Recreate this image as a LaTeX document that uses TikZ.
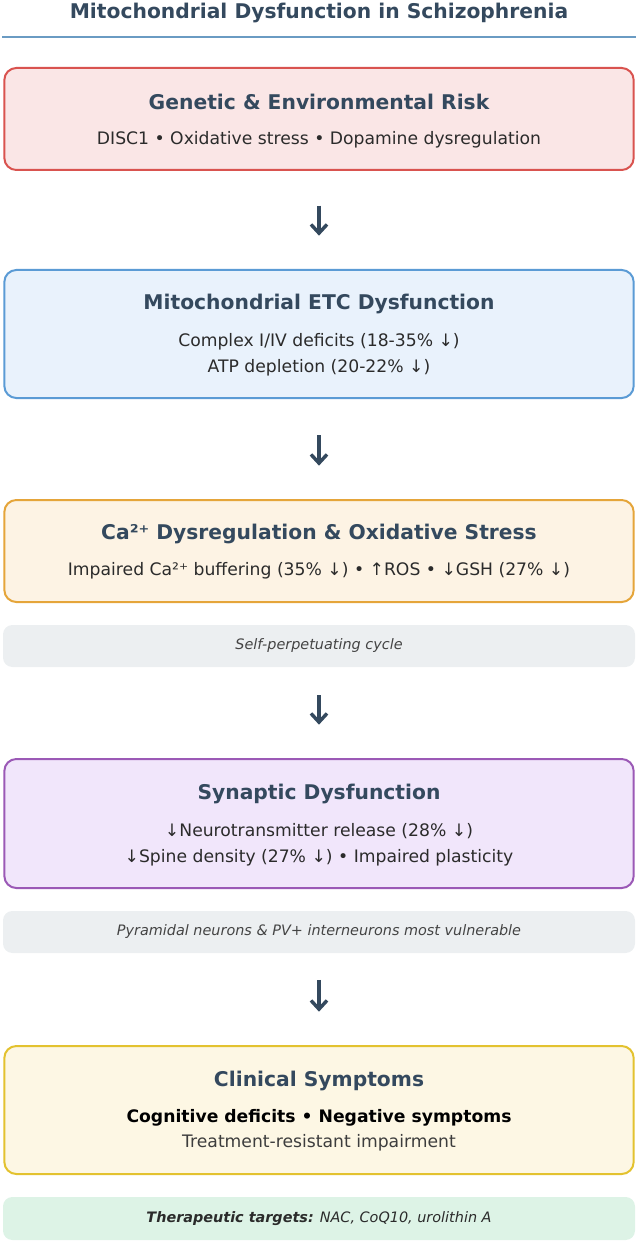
\documentclass[tikz,border=0pt]{standalone}
\usepackage{fontspec}
\setmainfont{DejaVu Sans}
\usetikzlibrary{arrows.meta}

\definecolor{inkdark}{HTML}{34495E}
\definecolor{bodyink}{HTML}{2B2B2B}
\definecolor{noteink}{HTML}{444444}
\definecolor{rulecol}{HTML}{6A9BC3}
\definecolor{riskline}{HTML}{D9534F}
\definecolor{riskfill}{HTML}{FAE6E6}
\definecolor{etcline}{HTML}{5B9BD5}
\definecolor{etcfill}{HTML}{E9F2FC}
\definecolor{caline}{HTML}{E5A53A}
\definecolor{cafill}{HTML}{FDF3E4}
\definecolor{synline}{HTML}{9B59B6}
\definecolor{synfill}{HTML}{F1E6FB}
\definecolor{clinline}{HTML}{E3C22F}
\definecolor{clinfill}{HTML}{FDF7E4}
\definecolor{notefill}{HTML}{ECEFF1}
\definecolor{therafill}{HTML}{DDF3E6}

\tikzset{
  stagebox/.style 2 args={draw=#1, fill=#2, line width=1.5pt,
    rounded corners=9pt, minimum width=472pt, inner sep=0pt},
  notebar/.style={fill=#1, rounded corners=7pt, minimum width=474pt,
    minimum height=31.5pt, inner sep=0pt},
  stagetitle/.style={font=\bfseries\fontsize{15.2}{18}\selectfont, text=inkdark},
  stagetext/.style={font=\fontsize{12.9}{19.5}\selectfont, text=bodyink, align=center},
  notetext/.style={font=\itshape\fontsize{10.8}{13}\selectfont, text=noteink},
  flowarrow/.style={draw=inkdark, line width=2.8pt,
    -{Straight Barb[length=6.5pt, width=12pt, line width=2.6pt]}}
}

\begin{document}
\begin{tikzpicture}[x=0.75pt, y=-0.75pt]
  \useasboundingbox (0,0) rectangle (638,1244);

  % heading
  \node[font=\bfseries\fontsize{15.2}{18}\selectfont, text=inkdark] (title) at (319,13)
    {Mitochondrial Dysfunction in Schizophrenia};
  \draw[rulecol, line width=1.5pt] (2,37) -- (636,37);

  % stages
  \node[stagebox={riskline}{riskfill}, minimum height=76.5pt] (risk) at (319,119) {};
  \node[stagetitle] (risk-title) at (319,102) {Genetic \& Environmental Risk};
  \node[stagetext] (risk-text) at (319,140) {DISC1 • Oxidative stress • Dopamine dysregulation};

  \node[stagebox={etcline}{etcfill}, minimum height=96pt] (etc) at (319,334) {};
  \node[stagetitle] (etc-title) at (319,304) {Mitochondrial ETC Dysfunction};
  \node[stagetext] (etc-text) at (319,355)
    {Complex I/IV deficits (18-35\% ↓)\\ATP depletion (20-22\% ↓)};

  \node[stagebox={caline}{cafill}, minimum height=76.5pt] (calcium) at (319,551) {};
  \node[stagetitle] (calcium-title) at (319,534) {Ca²⁺ Dysregulation \& Oxidative Stress};
  \node[stagetext] (calcium-text) at (319,571)
    {Impaired Ca²⁺ buffering (35\% ↓) • ↑ROS • ↓GSH (27\% ↓)};

  \node[notebar=notefill] (cycle) at (319,646) {};
  \node[notetext] (cycle-text) at (319,646) {Self-perpetuating cycle};

  \node[stagebox={synline}{synfill}, minimum height=96.75pt] (synapse) at (319,823.5) {};
  \node[stagetitle] (synapse-title) at (319,794) {Synaptic Dysfunction};
  \node[stagetext] (synapse-text) at (319,845)
    {↓Neurotransmitter release (28\% ↓)\\↓Spine density (27\% ↓) • Impaired plasticity};

  \node[notebar=notefill] (vulnerable) at (319,932) {};
  \node[notetext] (vulnerable-text) at (319,932)
    {Pyramidal neurons \& PV+ interneurons most vulnerable};

  \node[stagebox={clinline}{clinfill}, minimum height=96pt] (clinical) at (319,1110) {};
  \node[stagetitle] (clinical-title) at (319,1081) {Clinical Symptoms};
  \node[stagetext, font=\bfseries\fontsize{12.9}{15}\selectfont, text=black] (clinical-main)
    at (319,1118) {Cognitive deficits • Negative symptoms};
  \node[stagetext, text=noteink!90!black] (clinical-sub) at (319,1143)
    {Treatment-resistant impairment};

  \node[notebar=therafill, minimum height=32.25pt] (therapy) at (319,1218.5) {};
  \node[notetext, text=bodyink] (therapy-text) at (319,1219)
    {\textbf{Therapeutic targets:} NAC, CoQ10, urolithin A};

  % arrows between stages
  \draw[flowarrow, shorten <=26pt, shorten >=25pt] (risk.south) -- (etc.north);
  \draw[flowarrow, shorten <=27pt, shorten >=25pt] (etc.south) -- (calcium.north);
  \draw[flowarrow, shorten <=21pt, shorten >=25pt] (cycle.south) -- (synapse.north);
  \draw[flowarrow, shorten <=20pt, shorten >=25pt] (vulnerable.south) -- (clinical.north);
\end{tikzpicture}
\end{document}
